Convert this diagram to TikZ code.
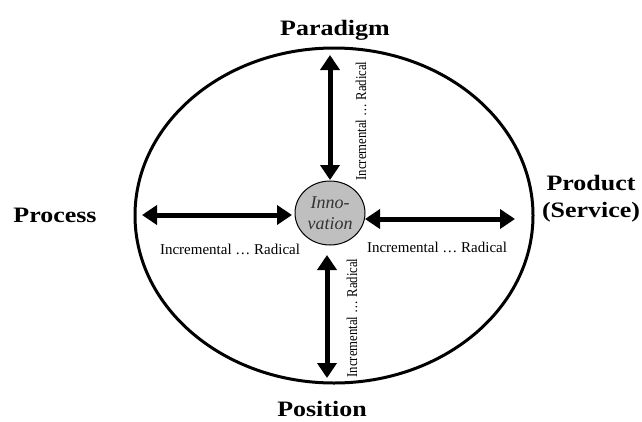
\documentclass[tikz,border=0pt]{standalone}
\usepackage{fontspec}
\setmainfont{Liberation Serif}
\usetikzlibrary{arrows.meta,shapes.geometric}
\begin{document}
\begin{tikzpicture}[x=1pt,y=-1pt,
  bigarrow/.style={line width=5pt,{Triangle[length=15pt,width=19pt]}-{Triangle[length=15pt,width=19pt]}},
  dimlabel/.style={font=\fontsize{15}{17}\selectfont, inner sep=0pt},
  dimname/.style={font=\fontsize{22}{27}\selectfont\bfseries, inner sep=0pt, xscale=1.18, align=center}
]
\useasboundingbox (0,0) rectangle (642,421);
\node[draw, line width=3pt, ellipse, minimum width=398pt, minimum height=335pt, inner sep=0pt] (outer) at (334,215.5) {};
\node[draw=black, line width=1pt, fill=black!25, ellipse, minimum width=70pt, minimum height=64pt, inner sep=0pt,
      font=\fontsize{18}{21}\selectfont\itshape, text=black!80, align=center] (inno) at (330,213) {Inno-\\vation};

\coordinate (lA) at (142,215);
\coordinate (lB) at (292,215);
\coordinate (rA) at (365,219);
\coordinate (rB) at (515,219);
\coordinate (tA) at (330,55);
\coordinate (tB) at (330,180);
\coordinate (bA) at (327,255);
\coordinate (bB) at (327,378);
\draw[bigarrow] (lA) -- (lB);
\draw[bigarrow] (rA) -- (rB);
\draw[bigarrow] (tA) -- (tB);
\draw[bigarrow] (bA) -- (bB);

\node[dimlabel] (lL) at (230,249) {Incremental … Radical};
\node[dimlabel] (rL) at (437,247) {Incremental … Radical};
\node[dimlabel, rotate=90] (tL) at (361,121) {\scalebox{0.85}[1]{Incremental … Radical}};
\node[dimlabel, rotate=90] (bL) at (352,318) {\scalebox{0.85}[1]{Incremental … Radical}};

\node[dimname, anchor=base] (par) at (335,35) {Paradigm};
\node[dimname, anchor=base] (proc) at (55,222) {Process};
\node[dimname, anchor=base] (prod) at (591,217) {Product\\(Service)};
\node[dimname, anchor=base] (pos) at (322,416) {Position};
\end{tikzpicture}
\end{document}
